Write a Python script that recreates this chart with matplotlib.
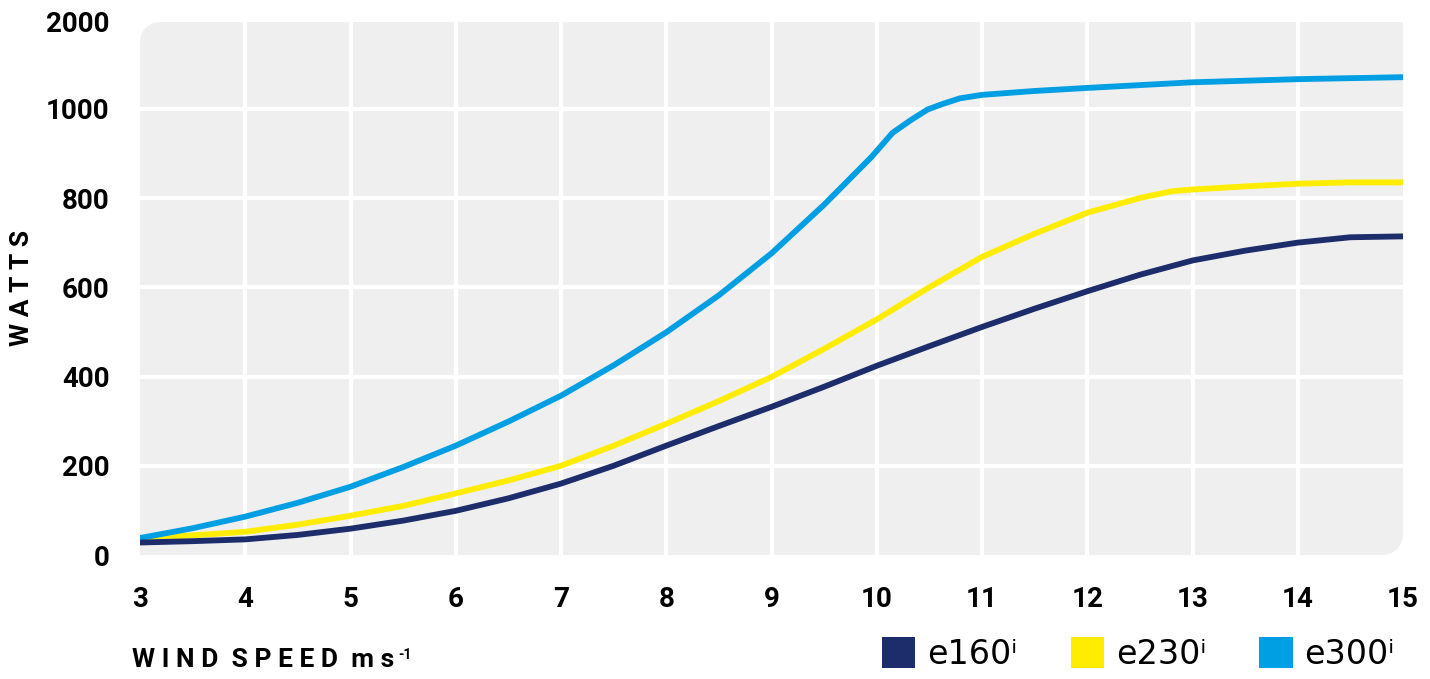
import numpy as np
import matplotlib
matplotlib.use("Agg")
import matplotlib.pyplot as plt
from matplotlib.patches import Patch, PathPatch
from matplotlib.path import Path

# wind speed readings (m/s) and power (W) for each turbine
x_e160 = [3, 3.5, 4, 4.5, 5, 5.5, 6, 6.5, 7, 7.5, 8, 8.5, 9, 9.5, 10, 10.5, 11, 11.5, 12, 12.5, 13, 13.5, 14, 14.5, 15]
y_e160 = [28, 31, 35, 45, 59, 77, 99, 127, 160, 200, 245, 289, 332, 377, 424, 468, 511, 552, 591, 628, 660, 682, 700, 712, 714]

x_e230 = [3, 3.5, 4, 4.5, 5, 5.5, 6, 6.5, 7, 7.5, 8, 8.5, 9, 9.5, 10, 10.5, 11, 11.5, 12, 12.5, 12.8, 13, 13.5, 14, 14.5, 15]
y_e230 = [37, 44, 52, 68, 88, 110, 138, 167, 200, 245, 294, 345, 399, 462, 528, 600, 668, 720, 767, 800, 815, 819, 826, 832, 835, 835]

x_e300 = [3, 3.5, 4, 4.5, 5, 5.5, 6, 6.5, 7, 7.5, 8, 8.5, 9, 9.5, 9.95, 10.15, 10.32, 10.48, 10.63, 10.79, 11, 11.5, 12, 13, 14, 15]
y_e300 = [38, 60, 86, 117, 153, 197, 245, 299, 357, 425, 499, 582, 676, 785, 892, 946, 974, 998, 1057, 1120, 1160, 1205, 1240, 1305, 1341, 1364]

labels = ["e160ⁱ", "e230ⁱ", "e300ⁱ"]
colors = ["#1d2d6b", "#ffed00", "#009fe3"]
xticks = list(range(3, 16))
yticks = [0, 200, 400, 600, 800, 1000, 2000]

# axis above 1000 W is squeezed
K = 0.1944


def fwd(v):
    v = np.asarray(v, dtype=float)
    return np.where(v <= 1000, v, 1000 + (v - 1000) * K)


def inv(v):
    v = np.asarray(v, dtype=float)
    return np.where(v <= 1000, v, 1000 + (v - 1000) / K)


plt.rcParams["font.family"] = ["Roboto", "DejaVu Sans"]

fig = plt.figure(figsize=(14.3, 6.79), dpi=100)
ax = fig.add_axes([140 / 1430, 1 - 555 / 679, 1263 / 1430, 533 / 679])
ax.set_yscale("function", functions=(fwd, inv))
ax.set_xlim(3, 15)
ax.set_ylim(3, 2000)

# rounded background (top-left and bottom-right corners)
W, H = 1263.0, 533.0
r = 20.0
rx, ry = r / W, r / H
t = np.linspace(0, np.pi / 2, 12)
pts = [(0, 0), (1 - rx, 0)]
pts += [(1 - rx + rx * np.sin(a), ry - ry * np.cos(a)) for a in t]
pts += [(1, 1)]
pts += [(rx - rx * np.sin(a), 1 - ry + ry * np.cos(a)) for a in t]
pts += [(0, 0)]
bg = PathPatch(Path(pts), transform=ax.transAxes, facecolor="#efefef",
               edgecolor="none", zorder=0)
ax.set_facecolor("none")
ax.add_patch(bg)

for s in ax.spines.values():
    s.set_visible(False)

ax.set_xticks(xticks)
ax.set_yticks(yticks)
ax.set_yticklabels([str(v) for v in yticks])
ax.tick_params(length=0, labelsize=20)
ax.tick_params(axis="x", pad=22)
ax.tick_params(axis="y", pad=22)
for lab in ax.get_xticklabels() + ax.get_yticklabels():
    lab.set_fontweight("bold")

ax.set_axisbelow(True)
ax.grid(True, color="white", linewidth=3)
for g in [ax.xaxis.get_gridlines()[0], ax.xaxis.get_gridlines()[-1],
          ax.yaxis.get_gridlines()[0], ax.yaxis.get_gridlines()[-1]]:
    g.set_visible(False)

ax.plot(x_e160, y_e160, color=colors[0], lw=4.2, solid_capstyle="butt", zorder=5)
ax.plot(x_e230, y_e230, color=colors[1], lw=4.2, solid_capstyle="butt", zorder=3)
ax.plot(x_e300, y_e300, color=colors[2], lw=4.2, solid_capstyle="butt", zorder=4)

fig.text(22 / 1430, 1 - 288 / 679, "W A T T S", rotation=90, ha="center", va="center",
         fontsize=19, fontweight="bold")
xl = fig.text(132 / 1430, 1 - 660 / 679, "W I N D  S P E E D  m s", ha="left", va="center",
              fontsize=19, fontweight="bold")
ax.annotate("-1", xy=(1, 1), xycoords=xl, xytext=(3, 0), textcoords="offset points",
            ha="left", va="top", fontsize=10, fontweight="bold", annotation_clip=False)

handles = [Patch(facecolor=c, edgecolor="none") for c in colors]
leg = fig.legend(handles, labels, loc="lower right", bbox_to_anchor=(1408 / 1430, -0.008),
                 ncol=3, frameon=False, handlelength=1.0, handleheight=1.05,
                 handletextpad=0.35, columnspacing=1.6, borderaxespad=0.0,
                 prop={"family": "DejaVu Sans", "size": 24})

fig.savefig("out.png", dpi=100)
